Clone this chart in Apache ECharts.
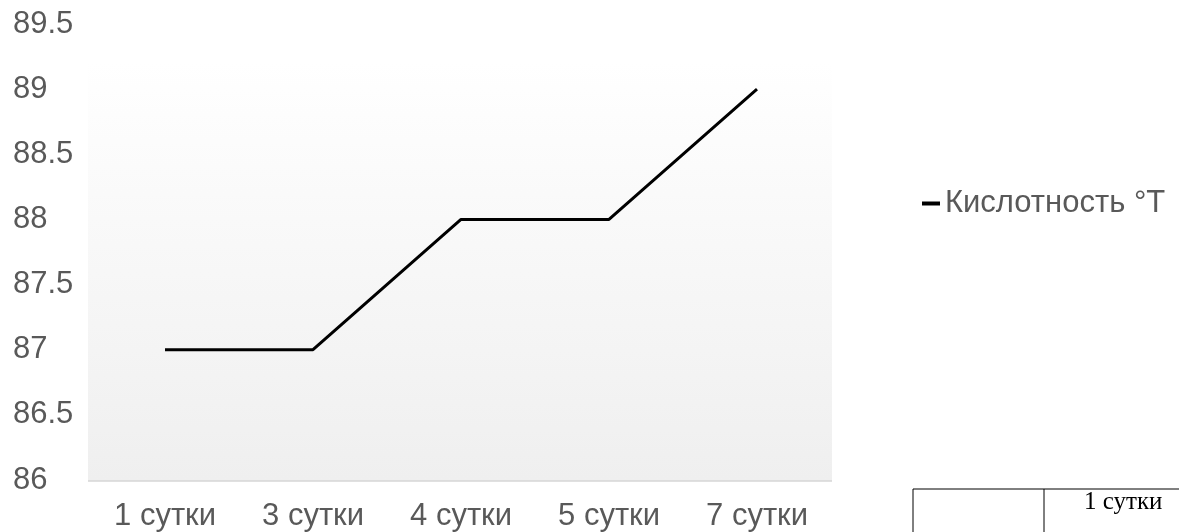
<!DOCTYPE html>
<html>
<head>
<meta charset="utf-8">
<script src="https://cdn.jsdelivr.net/npm/echarts@6/dist/echarts.min.js"></script>
<style>
  html, body { margin: 0; padding: 0; background: #fff; }
  #chart { width: 1179px; height: 532px; }
</style>
</head>
<body>
<div id="chart"></div>
<script>
// Acidity over days of storage
const days = ['1 сутки', '3 сутки', '4 сутки', '5 сутки', '7 сутки'];
const acidity = [87, 87, 88, 88, 89];
const seriesName = 'Кислотность °T';
const tableHeader = '1 сутки';

const chart = echarts.init(document.getElementById('chart'), null, { renderer: 'canvas' });

const fontFamily = 'Liberation Sans, Arial, sans-serif';
const labelColor = '#595959';

chart.setOption({
  animation: false,
  backgroundColor: '#ffffff',
  grid: { left: 91, right: 348, top: 24, bottom: 51, containLabel: false },
  graphic: [
    {
      type: 'rect', z: -10,
      shape: { x: 88, y: 62, width: 744, height: 419 },
      style: {
        fill: new echarts.graphic.LinearGradient(0, 0, 0, 1, [
          { offset: 0, color: '#ffffff' },
          { offset: 1, color: '#efefef' }
        ])
      }
    },
    {
      type: 'line', z: -5,
      shape: { x1: 88, y1: 481, x2: 832, y2: 481 },
      style: { stroke: '#d6d6d6', lineWidth: 1.5 }
    },
    // table fragment in the lower right corner
    {
      type: 'polyline',
      shape: { points: [[913, 532], [913, 489], [1179, 489]] },
      style: { stroke: '#000', lineWidth: 1, fill: null }
    },
    {
      type: 'line',
      shape: { x1: 1044, y1: 489, x2: 1044, y2: 532 },
      style: { stroke: '#000', lineWidth: 1 }
    },
    {
      type: 'text', left: 1084, top: 490,
      style: { text: tableHeader, font: '25px "Liberation Serif", "Times New Roman", serif', fill: '#000' }
    }
  ],
  legend: {
    data: [seriesName],
    orient: 'vertical',
    left: 917, top: 183,
    icon: 'rect',
    itemWidth: 18, itemHeight: 4,
    textStyle: { fontFamily: fontFamily, fontSize: 31, color: labelColor }
  },
  xAxis: {
    type: 'category',
    data: days,
    boundaryGap: true,
    axisLine: { show: false },
    axisTick: { show: false },
    axisLabel: { margin: 21, fontFamily: fontFamily, fontSize: 31, color: labelColor }
  },
  yAxis: {
    type: 'value',
    min: 86, max: 89.5, interval: 0.5,
    axisLine: { show: false },
    axisTick: { show: false },
    splitLine: { show: false },
    axisLabel: { margin: 78, align: 'left', fontFamily: fontFamily, fontSize: 31, color: labelColor }
  },
  series: [{
    name: seriesName,
    type: 'line',
    data: acidity,
    symbol: 'none',
    color: '#000000',
    lineStyle: { color: '#000000', width: 3 },
    itemStyle: { color: '#000000' }
  }]
});
</script>
</body>
</html>
